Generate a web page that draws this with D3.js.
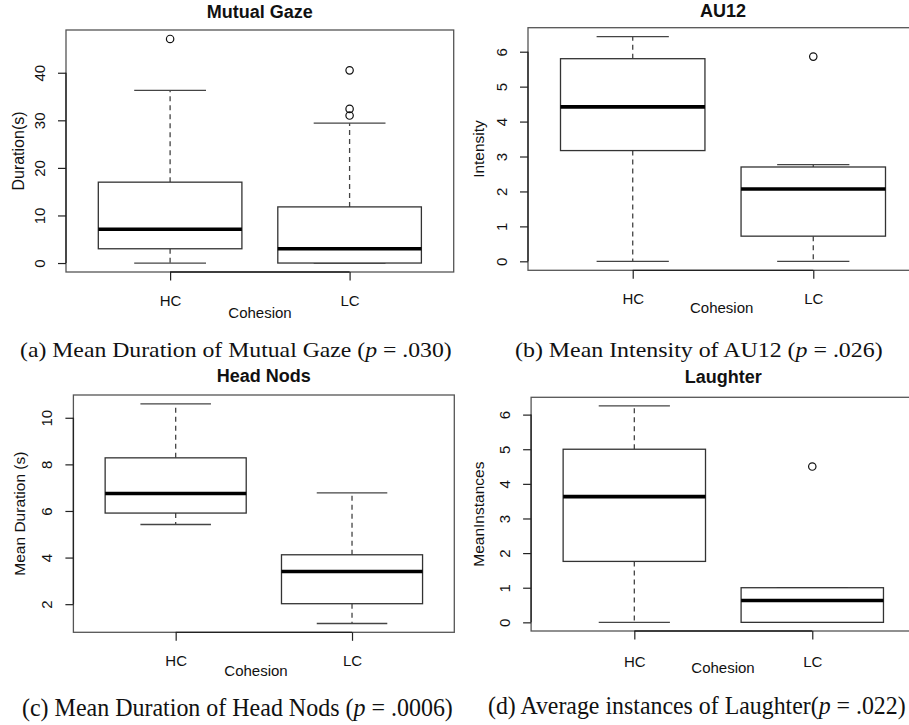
<!DOCTYPE html>
<html>
<head>
<meta charset="utf-8">
<script src="https://cdn.jsdelivr.net/npm/d3@7"></script>
<style>
  body { margin: 0; background: #fff; }
  text { font-family: "Liberation Sans", Arial, sans-serif; fill: #111; }
  .cap { font-family: "Liberation Serif", "Times New Roman", serif; }
</style>
</head>
<body>
<svg id="fig" width="909" height="725"></svg>
<script>
// box stats: [lower whisker, Q1, median, Q3, upper whisker]
const groups = ["HC", "LC"];

const gazeStats = [[0, 3.0, 7.1, 17.0, 36.3], [0, 0, 3.0, 11.8, 29.4]];
const gazeOutliers = [[47.1], [40.5, 32.4, 31.0]];
const gazeTicks = [0, 10, 20, 30, 40];

const au12Stats = [[0, 3.17, 4.42, 5.8, 6.43], [0, 0.72, 2.07, 2.7, 2.77]];
const au12Outliers = [[], [5.86]];
const au12Ticks = [0, 1, 2, 3, 4, 5, 6];

const nodStats = [[5.42, 5.91, 6.75, 8.28, 10.6], [1.17, 2.02, 3.4, 4.12, 6.78]];
const nodOutliers = [[], []];
const nodTicks = [2, 4, 6, 8, 10];

const laughStats = [[0, 1.76, 3.63, 5.0, 6.25], [0, 0, 0.63, 1.0, 1.0]];
const laughOutliers = [[], [4.5]];
const laughTicks = [0, 1, 2, 3, 4, 5, 6];

const titles = ["Mutual Gaze", "AU12", "Head Nods", "Laughter"];
const yLabels = ["Duration(s)", "Intensity", "Mean Duration (s)", "MeanInstances"];
const xLabel = "Cohesion";

// captions, split around the italic p
const captions = [
  ["(a) Mean Duration of Mutual Gaze (", ".030)"],
  ["(b) Mean Intensity of AU12 (", ".026)"],
  ["(c) Mean Duration of Head Nods (", ".0006)"],
  ["(d) Average instances of Laughter(", ".022)"]
];

// panel geometry (pixels)
const panels = [
  { stats: gazeStats, out: gazeOutliers, ticks: gazeTicks,
    left: 66, right: 453.7, top: 30, bottom: 272,
    titleY: 18, yLabX: 18.3, yLabSize: 16, xLabY: 28, cohX: 260, cohY: 40,
    cap: { x: 20, w: 432, y: 357, size: 20 } },
  { stats: au12Stats, out: au12Outliers, ticks: au12Ticks,
    left: 528, right: 918, top: 27.7, bottom: 270.3,
    titleY: 17.3, yLabX: 478.3, yLabSize: 15.5, xLabY: 28.7, cohX: 721.7, cohY: 37.2,
    cap: { x: 515, w: 368, y: 357, size: 20 } },
  { stats: nodStats, out: nodOutliers, ticks: nodTicks,
    left: 73.4, right: 454.3, top: 395, bottom: 632.3,
    titleY: 382.3, yLabX: 19, yLabSize: 15.5, xLabY: 28.7, cohX: 256, cohY: 38,
    cap: { x: 22, w: 431, y: 716, size: 26 } },
  { stats: laughStats, out: laughOutliers, ticks: laughTicks,
    left: 531.1, right: 915.5, top: 397.3, bottom: 631,
    titleY: 383.3, yLabX: 478.3, yLabSize: 15.5, xLabY: 30, cohX: 723, cohY: 36,
    cap: { x: 488, w: 418, y: 714, size: 26 } }
];

const svg = d3.select("#fig");

panels.forEach(function(p, k) {
  const g = svg.append("g");

  // R style limits: data range padded by 4%
  const all = p.stats.flat().concat(p.out.flat());
  const ext = d3.extent(all);
  const pad = (ext[1] - ext[0]) * 0.04;
  const y = d3.scaleLinear().domain([ext[0] - pad, ext[1] + pad]).range([p.bottom, p.top]);
  const x = d3.scaleLinear().domain([0.42, 2.58]).range([p.left, p.right]);

  // frame
  g.append("rect")
    .attr("x", p.left).attr("y", p.top)
    .attr("width", p.right - p.left).attr("height", p.bottom - p.top)
    .attr("fill", "none").attr("stroke", "#555").attr("stroke-width", 1.3);

  // boxes
  p.stats.forEach(function(s, i) {
    const cx = x(i + 1);
    const bw = x(i + 1.4) - cx;
    const cw = x(i + 1.2) - cx;
    const bg = g.append("g");

    bg.append("line")
      .attr("x1", cx).attr("x2", cx).attr("y1", y(s[3])).attr("y2", y(s[4]))
      .attr("stroke", "#444").attr("stroke-width", 1.3).attr("stroke-dasharray", "5,4");
    bg.append("line")
      .attr("x1", cx).attr("x2", cx).attr("y1", y(s[1])).attr("y2", y(s[0]))
      .attr("stroke", "#444").attr("stroke-width", 1.3).attr("stroke-dasharray", "5,4");

    [s[0], s[4]].forEach(function(v) {
      bg.append("line")
        .attr("x1", cx - cw).attr("x2", cx + cw).attr("y1", y(v)).attr("y2", y(v))
        .attr("stroke", "#444").attr("stroke-width", 1.3);
    });

    bg.append("rect")
      .attr("x", cx - bw).attr("width", 2 * bw)
      .attr("y", y(s[3])).attr("height", y(s[1]) - y(s[3]))
      .attr("fill", "#fff").attr("stroke", "#333").attr("stroke-width", 1.3);

    bg.append("line")
      .attr("x1", cx - bw).attr("x2", cx + bw).attr("y1", y(s[2])).attr("y2", y(s[2]))
      .attr("stroke", "#000").attr("stroke-width", 3.6);

    p.out[i].forEach(function(v) {
      bg.append("circle")
        .attr("cx", cx).attr("cy", y(v)).attr("r", 3.7)
        .attr("fill", "none").attr("stroke", "#111").attr("stroke-width", 1.2);
    });
  });

  // y axis (R draws its line only between first and last tick)
  const ya = g.append("g")
    .attr("transform", "translate(" + p.left + ",0)")
    .call(d3.axisLeft(y).tickValues(p.ticks).tickSize(8).tickSizeOuter(0)
      .tickFormat(d3.format("d")));
  ya.select(".domain").remove();
  ya.selectAll(".tick line").attr("stroke", "#222").attr("stroke-width", 1.2);
  ya.selectAll(".tick text")
    .attr("x", 0).attr("dy", null)
    .attr("y", -27)
    .attr("transform", "rotate(-90)")
    .attr("text-anchor", "middle")
    .attr("dominant-baseline", "central")
    .style("font-size", "15px")
    .style("font-family", "Liberation Sans, Arial, sans-serif")
    .attr("fill", "#222");
  g.append("line")
    .attr("x1", p.left).attr("x2", p.left)
    .attr("y1", y(p.ticks[0])).attr("y2", y(p.ticks[p.ticks.length - 1]))
    .attr("stroke", "#222").attr("stroke-width", 1.3);

  // x axis
  const xa = g.append("g")
    .attr("transform", "translate(0," + p.bottom + ")")
    .call(d3.axisBottom(x).tickValues([1, 2]).tickSize(8.5).tickSizeOuter(0)
      .tickFormat(function(d) { return groups[d - 1]; }));
  xa.select(".domain").remove();
  xa.selectAll(".tick line").attr("stroke", "#222").attr("stroke-width", 1.2);
  xa.selectAll(".tick text")
    .attr("y", p.xLabY).attr("dy", null)
    .attr("dominant-baseline", "central")
    .style("font-size", "15px")
    .style("font-family", "Liberation Sans, Arial, sans-serif")
    .attr("fill", "#222");
  g.append("line")
    .attr("x1", x(1)).attr("x2", x(2)).attr("y1", p.bottom).attr("y2", p.bottom)
    .attr("stroke", "#222").attr("stroke-width", 1.3);

  // labels
  g.append("text")
    .attr("x", (p.left + p.right) / 2).attr("y", p.titleY)
    .attr("text-anchor", "middle")
    .style("font-size", "18px").style("font-weight", "bold")
    .text(titles[k]);

  g.append("text")
    .attr("transform", "translate(" + p.yLabX + "," + (p.top + p.bottom) / 2 + ") rotate(-90)")
    .attr("text-anchor", "middle").attr("dominant-baseline", "central")
    .style("font-size", p.yLabSize + "px").attr("fill", "#222")
    .text(yLabels[k]);

  g.append("text")
    .attr("x", p.cohX).attr("y", p.bottom + p.cohY)
    .attr("text-anchor", "middle").attr("dominant-baseline", "central")
    .style("font-size", "15px").attr("fill", "#222")
    .text(xLabel);

  // caption, squeezed or stretched to the width it has in the figure
  const c = g.append("text")
    .attr("class", "cap")
    .style("font-size", p.cap.size + "px").attr("fill", "#000");
  c.append("tspan").text(captions[k][0]);
  c.append("tspan").style("font-style", "italic").text("p");
  c.append("tspan").text(" = " + captions[k][1]);
  const natural = c.node().getComputedTextLength();
  c.attr("transform", "translate(" + p.cap.x + "," + p.cap.y + ") scale(" + (p.cap.w / natural) + ",1)");
});
</script>
</body>
</html>
